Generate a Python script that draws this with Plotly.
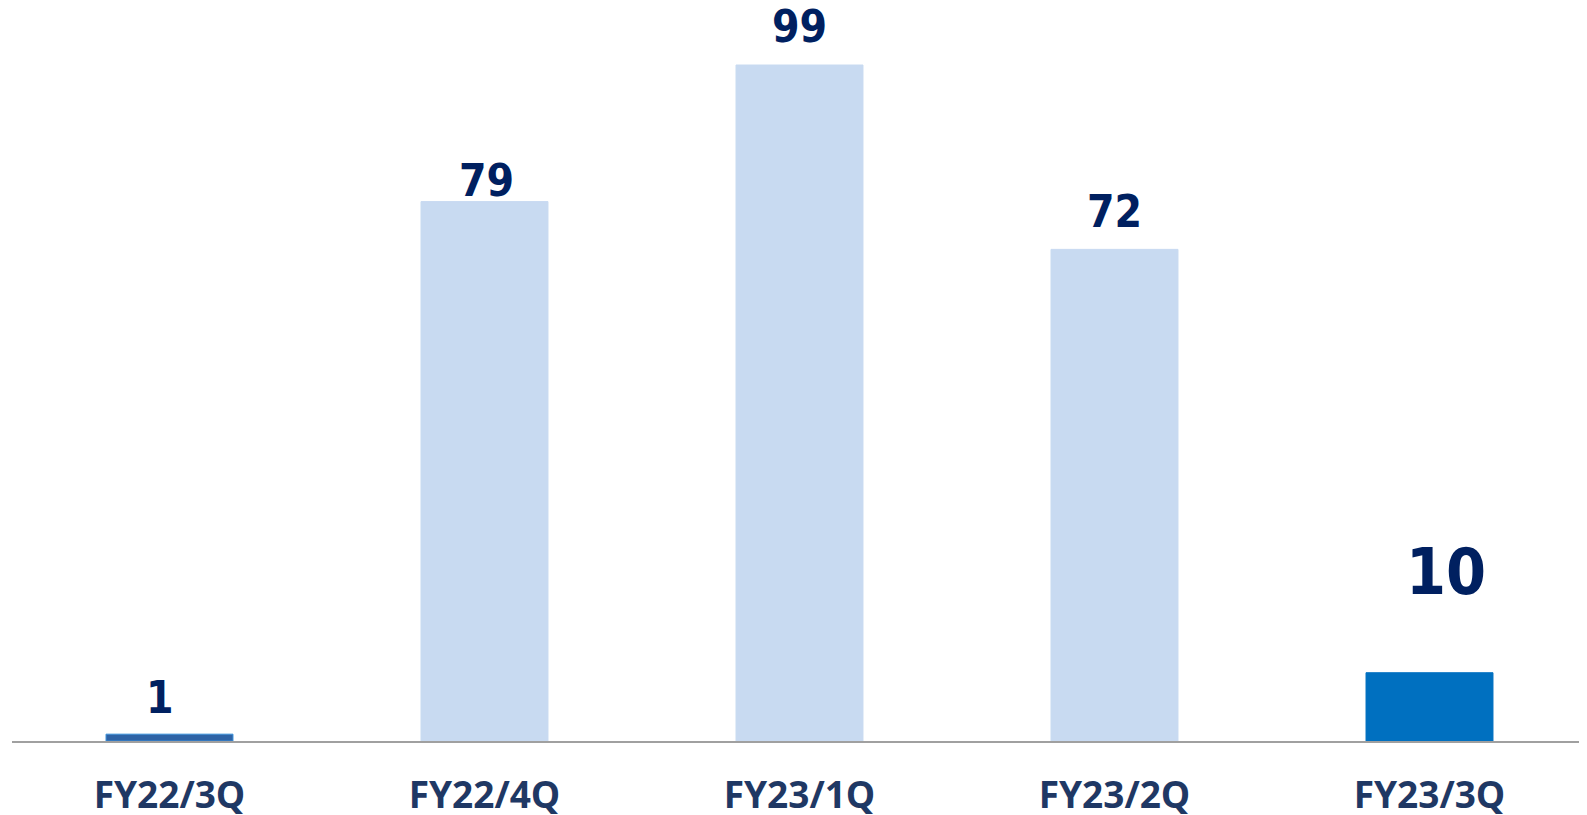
import plotly.graph_objects as go

quarters = ['FY22/3Q', 'FY22/4Q', 'FY23/1Q', 'FY23/2Q', 'FY23/3Q']
values = [1, 79, 99, 72, 10]
value_labels = ['1', '79', '99', '72', '10']

bar_colors = ['#2E63A6', '#C8DAF1', '#C8DAF1', '#C8DAF1', '#0070C0']
bar_lines = ['#3A8FD8', '#C8DAF1', '#C8DAF1', '#C8DAF1', '#0070C0']
label_sizes = [44, 44, 44, 44, 64]
label_yshift = [9, -6, 11, 10, 62]
label_xshift = [-10, 2, 0, 0, 16]

fig = go.Figure(go.Bar(
    x=quarters, y=values,
    marker=dict(color=bar_colors, line=dict(color=bar_lines, width=1)),
    width=0.403,
    hoverinfo='skip',
))

for q, v, t, s, dy, dx in zip(quarters, values, value_labels, label_sizes, label_yshift, label_xshift):
    fig.add_annotation(x=q, y=v, text=f'<b>{t}</b>', showarrow=False,
                       yanchor='bottom', yshift=dy, xshift=dx,
                       font=dict(family='DejaVu Sans Condensed, DejaVu Sans', size=s, color='#002060'))

# page body has an 8px margin, so the figure is a bit smaller than the window
fig.update_layout(
    width=1579, height=807,
    margin=dict(l=4, r=0, t=0, b=74),
    plot_bgcolor='white', paper_bgcolor='white',
    showlegend=False,
)
fig.update_xaxes(showline=True, linecolor='#A0A0A0', linewidth=2,
                 range=[-0.5, 4.5], automargin=False,
                 showgrid=False, ticks='', ticklabelstandoff=21,
                 tickfont=dict(family='Open Sans', size=37, color='#1F3864', weight='bold'))
fig.update_yaxes(visible=False, range=[0, 107.35], automargin=False,
                 showgrid=False, zeroline=False)

fig.write_html("out.html")
